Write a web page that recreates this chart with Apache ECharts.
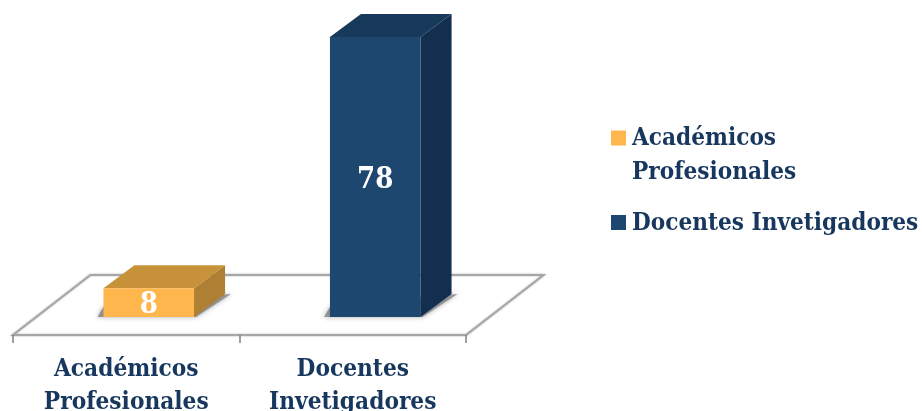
<!DOCTYPE html>
<html><head><meta charset="utf-8">
<style>html,body{margin:0;padding:0;background:#fff}#c{width:922px;height:411px}</style>
<script src="https://cdn.jsdelivr.net/npm/echarts@6/dist/echarts.min.js"></script>
</head><body><div id="c"></div>
<script>
const categories = ['Académicos\nProfesionales', 'Docentes\nInvetigadores'];
const seriesNames = ['Académicos\nProfesionales', 'Docentes Invetigadores'];
const values = [8, 78];
const frontColors = ['#FFB64C', '#1D476F'];
const topColors = ['#C8923A', '#17395A'];
const sideColors = ['#AF7F34', '#122F4F'];
const TEXT = '#17375E';
const FONT = '"DejaVu Serif Condensed","DejaVu Serif",serif';

const chart = echarts.init(document.getElementById('c'), null, {renderer: 'canvas'});
function bar(idx) {
  return {
    type: 'custom', name: seriesNames[idx], clip: false, z: 5,
    itemStyle: {color: frontColors[idx]},
    encode: {x: 0, y: 1},
    data: [[categories[idx], values[idx]]],
    renderItem(params, api) {
      const base = api.coord([api.value(0), 0]);
      const topP = api.coord([api.value(0), api.value(1)]);
      const w = api.size([1, 0])[0] * 0.4, off = 22.5, dx = 31, dy = -23;
      const x0 = base[0] + off - w / 2, x1 = x0 + w, y0 = base[1], y1 = topP[1];
      return {type: 'group', children: [
        {type: 'polygon', shape: {points: [[x0 - 6, y0], [x1 + 2, y0], [x1 + dx + 6, y0 + dy], [x1, y0 - 20], [x0, y0 - 10]]},
          style: {fill: 'rgba(125,125,125,0.75)', shadowBlur: 5, shadowColor: 'rgba(120,120,120,0.8)'}},
        {type: 'polygon', shape: {points: [[x1, y0], [x1 + dx, y0 + dy], [x1 + dx, y1 + dy], [x1, y1]]}, style: {fill: sideColors[idx]}},
        {type: 'polygon', shape: {points: [[x0, y1], [x1, y1], [x1 + dx, y1 + dy], [x0 + dx, y1 + dy]]}, style: {fill: topColors[idx]}},
        {type: 'rect', shape: {x: x0, y: y1, width: w, height: y0 - y1}, style: {fill: frontColors[idx]}},
        {type: 'text', x: (x0 + x1) / 2, y: (y0 + y1) / 2 + 3,
          style: {text: String(values[idx]), fill: '#fff', font: 'bold 29px ' + FONT, align: 'center', verticalAlign: 'middle'}}
      ]};
    }
  };
}
const floor = {
  type: 'custom', silent: true, clip: false, z: 1, legendHoverLink: false,
  data: [[0]], encode: {},
  renderItem(params) {
    const g = params.coordSys, b = g.y + g.height, l = g.x, r = g.x + g.width, dx = 77.5, dy = -60;
    return {type: 'polygon', shape: {points: [[l, b], [l + dx, b + dy], [r + dx, b + dy], [r, b]]},
      style: {fill: '#fff', stroke: '#A6A6A6', lineWidth: 2, shadowBlur: 2, shadowColor: 'rgba(120,120,120,0.5)'}};
  }
};
chart.setOption({
  animation: false,
  backgroundColor: '#fff',
  grid: {left: 13, width: 453, top: 37, height: 298, outerBoundsMode: 'none'},
  xAxis: {
    type: 'category', data: categories, z: 3,
    axisLine: {onZero: false, lineStyle: {color: '#A6A6A6', width: 2}},
    axisTick: {show: true, length: 8, lineStyle: {color: '#808080', width: 1.5}},
    axisLabel: {color: TEXT, fontFamily: FONT, fontWeight: 'bold', fontSize: 24.2, lineHeight: 33, margin: 18, interval: 0}
  },
  yAxis: {type: 'value', min: -5, max: 78, show: false, splitLine: {show: false}},
  legend: {
    orient: 'vertical', left: 611, top: 121, itemGap: 9, itemWidth: 15, itemHeight: 50, padding: 0,
    selectedMode: false,
    textStyle: {color: TEXT, fontFamily: FONT, fontWeight: 'bold', fontSize: 24.1, lineHeight: 34, padding: [1, 0, 0, 1]},
    data: [
      {name: seriesNames[0], icon: 'path://M0 0H15V15H0Z M0 50L15 50Z', itemStyle: {color: frontColors[0]}},
      {name: seriesNames[1], icon: 'path://M0 16H15V31H0Z M0 0L15 0Z M0 50L15 50Z', itemStyle: {color: frontColors[1]}}
    ]
  },
  series: [floor, bar(0), bar(1)]
});
</script></body></html>
